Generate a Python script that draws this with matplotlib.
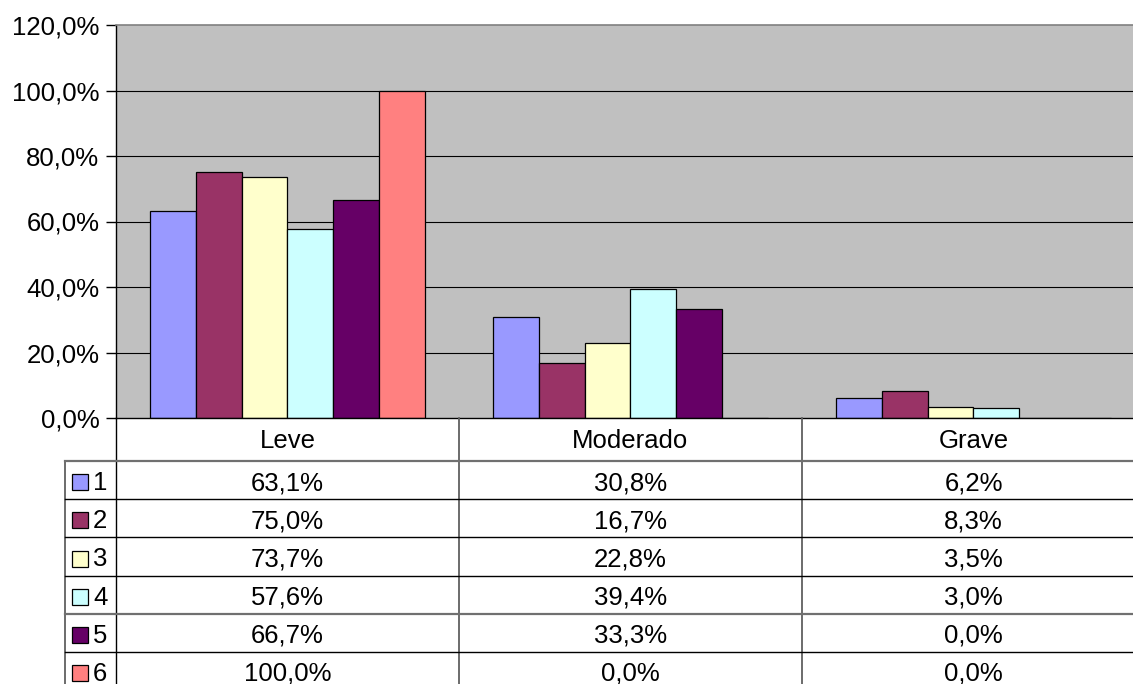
import matplotlib
matplotlib.use("Agg")
import matplotlib.pyplot as plt
from matplotlib.patches import Rectangle

categories = ["Leve", "Moderado", "Grave"]
series_names = ["1", "2", "3", "4", "5", "6"]
s1 = [63.1, 30.8, 6.2]
s2 = [75.0, 16.7, 8.3]
s3 = [73.7, 22.8, 3.5]
s4 = [57.6, 39.4, 3.0]
s5 = [66.7, 33.3, 0.0]
s6 = [100.0, 0.0, 0.0]
series = [s1, s2, s3, s4, s5, s6]
colors = ["#9999FF", "#993366", "#FFFFCC", "#CCFFFF", "#660066", "#FF8080"]
yticks = [0, 20, 40, 60, 80, 100, 120]

plt.rcParams['font.family'] = ['Liberation Sans', 'DejaVu Sans']
FS = 18.5

W, H = 1133, 684
fig = plt.figure(figsize=(W / 100, H / 100), dpi=100)
fig.patch.set_facecolor("white")

# plot area in pixels
L, T, B = 116, 25, 418
colw = 343
R = L + 3 * colw
ax = fig.add_axes([L / W, (H - B) / H, (R - L) / W, (B - T) / H])
ax.set_facecolor("#C0C0C0")
ax.set_xlim(0, 3)
ax.set_ylim(0, 120)
ax.set_yticks(yticks)
ax.set_yticklabels([f"{v:.1f}%".replace(".", ",") for v in yticks], fontsize=FS)
ax.tick_params(axis="y", length=7, width=1, pad=5, direction="out")
ax.set_xticks([])
for y in yticks[1:-1]:
    ax.axhline(y, color="black", lw=0.8, zorder=1)
for s in ["top", "right"]:
    ax.spines[s].set_color("#808080")
    ax.spines[s].set_linewidth(1.2)
ax.spines["left"].set_color("black")
ax.spines["left"].set_linewidth(1)
ax.spines["bottom"].set_color("black")
ax.spines["bottom"].set_linewidth(1)

w = 1 / 7.5
for i, (vals, c) in enumerate(zip(series, colors)):
    xs = [k + 0.5 + (i - 2.5) * w for k in range(len(categories))]
    ax.bar(xs, vals, width=w, color=c, edgecolor="black", linewidth=0.9, zorder=2)

# table overlay in pixel coordinates
tx = fig.add_axes([0, 0, 1, 1])
tx.set_xlim(0, W)
tx.set_ylim(H, 0)
tx.axis("off")
tx.patch.set_alpha(0)

rows = [461, 499, 537, 576, 614, 652, 690]
legL = 65
# header text
for k, cat in enumerate(categories):
    tx.text(L + colw * (k + 0.5), 441, cat, ha="center", va="center", fontsize=FS)
# vertical lines
tx.plot([L, L], [B, H], color="black", lw=1)
for k in (1, 2):
    tx.plot([L + colw * k, L + colw * k], [B, H], color="#606060", lw=1.3)
tx.plot([legL, legL], [rows[0], H], color="#606060", lw=1.3)
# horizontal lines
for j, y in enumerate(rows[:-1]):
    col = "#707070" if j in (0, 4) else "black"
    lw = 1.6 if j in (0, 4) else 1
    tx.plot([legL, W], [y, y], color=col, lw=lw)
# rows
for j, (name, vals, c) in enumerate(zip(series_names, series, colors)):
    yc = (rows[j] + rows[j + 1]) / 2 + 2
    tx.add_patch(Rectangle((72, yc - 8), 16, 16, facecolor=c, edgecolor="black", lw=0.9))
    tx.text(93, yc + 1, name, ha="left", va="center", fontsize=FS)
    for k, v in enumerate(vals):
        tx.text(L + colw * (k + 0.5), yc + 1, f"{v:.1f}%".replace(".", ","),
                ha="center", va="center", fontsize=FS)

fig.savefig("out.png", dpi=100)
